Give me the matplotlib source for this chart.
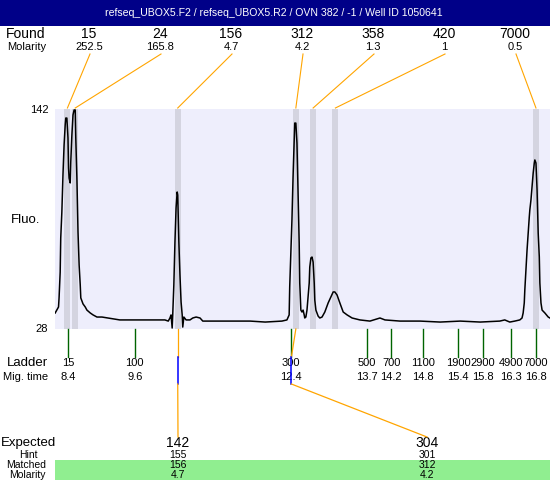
import matplotlib
matplotlib.use("Agg")
import matplotlib.pyplot as plt

plt.rcParams['font.family'] = ['Liberation Sans', 'DejaVu Sans']

title = "refseq_UBOX5.F2 / refseq_UBOX5.R2 / OVN 382 / -1 / Well ID 1050641"

# electropherogram trace (migration time, fluorescence)
trace_time = [8.17, 8.23, 8.24, 8.26, 8.27, 8.29, 8.31, 8.33, 8.35, 8.36, 8.38, 8.40, 8.41, 8.42,
              8.44, 8.45, 8.47, 8.49, 8.51, 8.53, 8.54, 8.56, 8.58, 8.60, 8.62, 8.63, 8.67, 8.71,
              8.74, 8.80, 8.85, 8.92, 9.01, 9.33, 9.69, 10.05, 10.14, 10.20, 10.23, 10.25, 10.27,
              10.28, 10.30, 10.32, 10.34, 10.36, 10.37, 10.39, 10.41, 10.43, 10.45, 10.46, 10.48,
              10.52, 10.59, 10.64, 10.70, 10.77, 10.82, 10.95, 11.31, 11.67, 11.94, 12.24, 12.33,
              12.37, 12.38, 12.40, 12.42, 12.44, 12.46, 12.47, 12.49, 12.51, 12.53, 12.55, 12.56,
              12.58, 12.60, 12.62, 12.64, 12.65, 12.67, 12.69, 12.71, 12.73, 12.74, 12.76, 12.78,
              12.80, 12.82, 12.83, 12.85, 12.89, 12.92, 12.96, 13.01, 13.07, 13.12, 13.16, 13.19,
              13.23, 13.28, 13.34, 13.41, 13.50, 13.64, 13.82, 14.00, 14.09, 14.36, 14.72, 15.08,
              15.44, 15.80, 16.15, 16.24, 16.33, 16.42, 16.51, 16.55, 16.57, 16.59, 16.60, 16.62,
              16.64, 16.66, 16.68, 16.69, 16.71, 16.73, 16.75, 16.77, 16.78, 16.80, 16.82, 16.84,
              16.86, 16.87, 16.89, 16.91, 16.96, 17.02, 17.05]
trace_fluo = [36.3, 39.4, 44.1, 57.5, 75.2, 88.6, 107.8, 123.3, 133.7, 137.3, 137.3, 127.0, 111.4, 106.2,
              103.7, 114.5, 128.5, 138.9, 141.5, 141.5, 127.0, 106.2, 78.3, 61.2, 50.8, 44.1, 41.0, 39.4,
              37.8, 36.3, 35.3, 34.2, 34.2, 32.7, 32.7, 32.7, 32.7, 32.1, 33.7, 35.3, 28.5,
              35.3, 50.8, 73.1, 90.7, 99.0, 97.4, 73.1, 56.0, 42.0, 35.3, 29.0, 34.2,
              32.7, 32.7, 33.7, 34.2, 33.7, 32.1, 32.1, 32.1, 32.1, 31.6, 32.1, 32.7,
              35.3, 49.8, 67.4, 84.5, 106.8, 124.4, 134.7, 134.7, 124.4, 98.5, 72.6, 51.8,
              37.8, 36.8, 37.8, 35.3, 33.7, 34.2, 37.8, 44.6, 51.8, 60.1, 64.8, 65.3,
              62.7, 51.8, 43.0, 37.8, 34.7, 33.7, 34.2, 36.8, 41.5, 44.6, 47.2, 47.2,
              45.6, 41.5, 36.8, 35.3, 33.7, 32.7, 32.1, 33.7, 32.7, 32.1, 32.1, 31.6,
              32.1, 31.6, 32.1, 32.7, 31.6, 32.1, 32.7, 33.7, 36.3, 41.5, 48.2, 58.6,
              68.9, 77.7, 86.0, 89.7, 94.8, 101.6, 108.8, 114.0, 115.6, 114.0, 100.0, 77.7,
              65.3, 51.8, 41.5, 37.8, 36.3, 34.2, 33.7]

# found peaks
found_size = ["15", "24", "156", "312", "358", "420", "7000"]
found_molarity = ["252.5", "165.8", "4.7", "4.2", "1.3", "1", "0.5"]
found_time = [8.39, 8.53, 10.37, 12.49, 12.80, 13.20, 16.80]

# ladder
ladder_size = ["15", "100", "300", "500", "700", "1100", "1900", "2900", "4900", "7000"]
ladder_time = [8.4, 9.6, 12.4, 13.76, 14.2, 14.77, 15.4, 15.85, 16.35, 16.8]
ladder_labels = ["8.4", "9.6", "12.4", "13.7", "14.2", "14.8", "15.4", "15.8", "16.3", "16.8"]

# expected fragments
expected = ["142", "304"]
hint = ["155", "301"]
matched = ["156", "312"]
matched_molarity = ["4.7", "4.2"]
matched_time = [10.37, 12.49]
matched_ladder_time = [10.37, 12.41]

W, H = 550, 480
fig = plt.figure(figsize=(5.5, 4.8), dpi=100)
fig.patch.set_facecolor("white")

# main trace axes
ax = fig.add_axes([55 / W, (H - 329) / H, 495 / W, 220 / H])
ax.set_facecolor("#EEEEFC")
ax.set_xlim(8.167, 17.052)
ax.set_ylim(28, 142)
for s in ax.spines.values():
    s.set_visible(False)
ax.set_xticks([])
ax.set_yticks([])
for t in found_time:
    ax.axvspan(t - 0.054, t + 0.054, color="#D4D4E0", lw=0, zorder=1)
ax.plot(trace_time, trace_fluo, color="black", lw=1.1, zorder=3)

# overlay in pixel coords for the annotations
ov = fig.add_axes([0, 0, 1, 1], zorder=5)
ov.set_xlim(0, W)
ov.set_ylim(H, 0)
ov.axis("off")
ov.patch.set_alpha(0)


def px(t):
    return ax.transData.transform((t, 28))[0]


# title bar
ov.add_patch(plt.Rectangle((0, 0), W, 26, color="#000088", lw=0))
ov.text(274, 13.5, title, color="white", fontsize=7.6, ha="center", va="center")

# found row
ov.text(26, 34, "Found", fontsize=10, ha="center", va="center")
ov.text(27, 47, "Molarity", fontsize=8, ha="center", va="center")
for i, (sz, mol, t) in enumerate(zip(found_size, found_molarity, found_time)):
    lx = 89 + 71 * i
    ov.text(lx, 34, sz, fontsize=10, ha="center", va="center")
    ov.text(lx, 47, mol, fontsize=8, ha="center", va="center")
    ov.plot([lx + 1, px(t)], [54, 108], color="#FFA500", lw=0.8)

# y labels
ov.text(49, 110, "142", fontsize=8, ha="right", va="center")
ov.text(48, 329, "28", fontsize=8, ha="right", va="center")
ov.text(26, 220, "Fluo.", fontsize=9.5, ha="center", va="center")

# ladder
ov.text(27, 363, "Ladder", fontsize=9.5, ha="center", va="center")
ov.text(26, 377, "Mig. time", fontsize=8, ha="center", va="center")
for sz, t, lab in zip(ladder_size, ladder_time, ladder_labels):
    x = px(t)
    ov.plot([x, x], [329, 357], color="#006400", lw=1)
    ov.text(x, 363, sz, fontsize=8, ha="center", va="center")
    ov.text(x, 377, lab, fontsize=8, ha="center", va="center")

# expected / matched table
ov.add_patch(plt.Rectangle((55, 460), W - 55, 20, color="#90EE90", lw=0))
ov.text(1, 443, "Expected", fontsize=9.5, ha="left", va="center")
ov.text(28, 455, "Hint", fontsize=7.5, ha="center", va="center")
ov.text(26, 465, "Matched", fontsize=7.5, ha="center", va="center")
ov.text(27, 474.5, "Molarity", fontsize=7.5, ha="center", va="center")
exp_x = [178, 427]
for ex, e, h, m, mm, t, lt in zip(exp_x, expected, hint, matched, matched_molarity,
                                  matched_time, matched_ladder_time):
    ov.text(ex, 443, e, fontsize=10, ha="center", va="center")
    ov.text(ex, 455, h, fontsize=7.5, ha="center", va="center")
    ov.text(ex, 465, m, fontsize=7.5, ha="center", va="center")
    ov.text(ex, 474.5, mm, fontsize=7.5, ha="center", va="center")
    x0, x1 = px(t), px(lt)
    ov.plot([x0, x1], [329, 357], color="#FFA500", lw=0.9, zorder=6)
    ov.plot([x1, x1], [357, 384], color="#0000FF", lw=1.1, zorder=6)
    ov.plot([x1, ex], [384, 437], color="#FFA500", lw=0.9, zorder=6)

fig.savefig("out.png", dpi=100)
